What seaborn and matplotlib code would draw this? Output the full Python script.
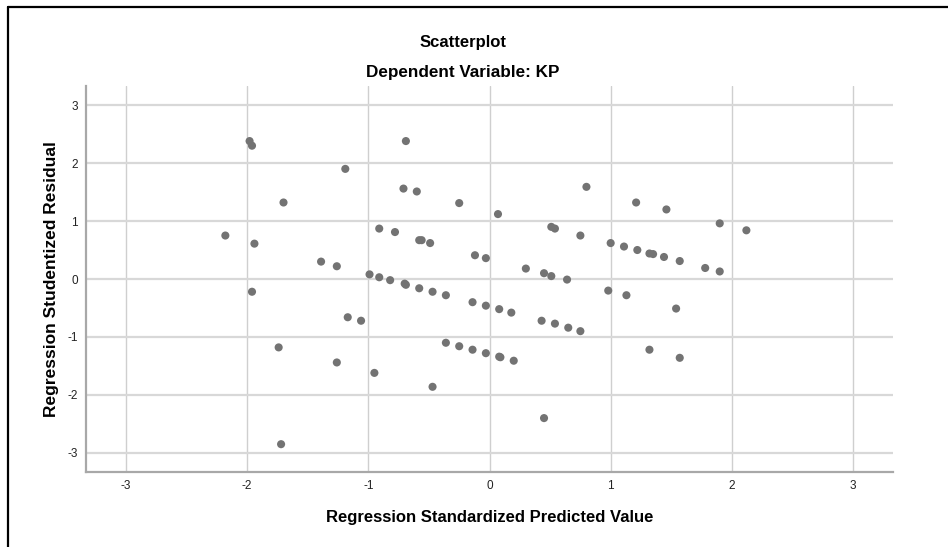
import pandas as pd
import matplotlib.pyplot as plt
import seaborn as sns
from matplotlib.lines import Line2D

# values
pred = [-2.18, -1.98, -1.96, -1.94, -1.96, -1.70, -1.74, -1.72, -1.39, -1.26,
        -1.26, -1.19, -1.17, -1.06, -0.99, -0.95, -0.91, -0.91, -0.82, -0.78,
        -0.71, -0.70, -0.69, -0.69, -0.60, -0.58, -0.56, -0.58, -0.49, -0.47,
        -0.47, -0.36, -0.36, -0.25, -0.25, -0.14, -0.14, -0.12, -0.03, -0.03,
        -0.03, 0.07, 0.08, 0.08, 0.09, 0.18, 0.20, 0.30, 0.43, 0.45,
        0.45, 0.51, 0.54, 0.51, 0.54, 0.64, 0.65, 0.75, 0.75, 0.80,
        0.98, 1.00, 1.11, 1.13, 1.21, 1.22, 1.32, 1.35, 1.32, 1.44,
        1.46, 1.54, 1.57, 1.57, 1.78, 1.90, 1.90, 2.12]
resid = [0.75, 2.38, 2.30, 0.61, -0.22, 1.32, -1.18, -2.85, 0.30, 0.22,
         -1.44, 1.90, -0.66, -0.72, 0.08, -1.62, 0.87, 0.03, -0.02, 0.81,
         1.56, -0.08, -0.10, 2.38, 1.51, 0.67, 0.67, -0.16, 0.62, -0.22,
         -1.86, -0.28, -1.10, 1.31, -1.16, -0.40, -1.22, 0.41, 0.36, -0.46,
         -1.28, 1.12, -0.52, -1.34, -1.35, -0.58, -1.41, 0.18, -0.72, 0.10,
         -2.40, 0.90, 0.87, 0.05, -0.77, -0.01, -0.84, 0.75, -0.90, 1.59,
         -0.20, 0.62, 0.56, -0.28, 1.32, 0.50, 0.44, 0.43, -1.22, 0.38,
         1.20, -0.51, 0.31, -1.36, 0.19, 0.96, 0.13, 0.84]
ticks = [-3, -2, -1, 0, 1, 2, 3]

df = pd.DataFrame({'pred': pred, 'resid': resid})

sns.set_style("whitegrid")
plt.rcParams['font.family'] = ['Liberation Sans', 'DejaVu Sans']
plt.rcParams['axes.unicode_minus'] = False
plt.rcParams['text.color'] = 'black'
plt.rcParams['axes.labelcolor'] = 'black'

fig = plt.figure(figsize=(9.48, 5.47), dpi=100)
ax = fig.add_axes([86 / 948, 1 - 472 / 547, (893 - 86) / 948, (472 - 86) / 547])

sns.scatterplot(data=df, x='pred', y='resid', ax=ax, color='#737373',
                s=34, edgecolor='none', zorder=3)

ax.set_xlim(-3.33, 3.33)
ax.set_ylim(-3.33, 3.33)
ax.set_xticks(ticks)
ax.set_yticks(ticks)
ax.tick_params(axis='both', length=0, labelsize=8.5, colors='#222222', pad=6)
ax.grid(axis='x', color='#cfcfcf', linewidth=1.0)
ax.grid(axis='y', color='#d8d8d8', linewidth=1.6)
for side in ['top', 'right']:
    ax.spines[side].set_visible(False)
for side in ['left', 'bottom']:
    ax.spines[side].set_color('#a8a8a8')
    ax.spines[side].set_linewidth(1.6)

ax.set_xlabel('Regression Standardized Predicted Value', fontsize=12,
              fontweight='bold', labelpad=13)
ax.set_ylabel('Regression Studentized Residual', fontsize=12.5,
              fontweight='bold', labelpad=6)

fig.text(463 / 948, 1 - 42 / 547, 'Scatterplot', ha='center', va='center',
         fontsize=12, fontweight='bold')
fig.text(463 / 948, 1 - 73 / 547, 'Dependent Variable: KP', ha='center',
         va='center', fontsize=12.3, fontweight='bold')

# screenshot frame (top and left edges only)
fig.add_artist(Line2D([8 / 948, 1], [1 - 7 / 547, 1 - 7 / 547],
                      transform=fig.transFigure, color='black', linewidth=1.6))
fig.add_artist(Line2D([8 / 948, 8 / 948], [0, 1 - 7 / 547],
                      transform=fig.transFigure, color='black', linewidth=1.6))

plt.savefig('out.png', dpi=100)
